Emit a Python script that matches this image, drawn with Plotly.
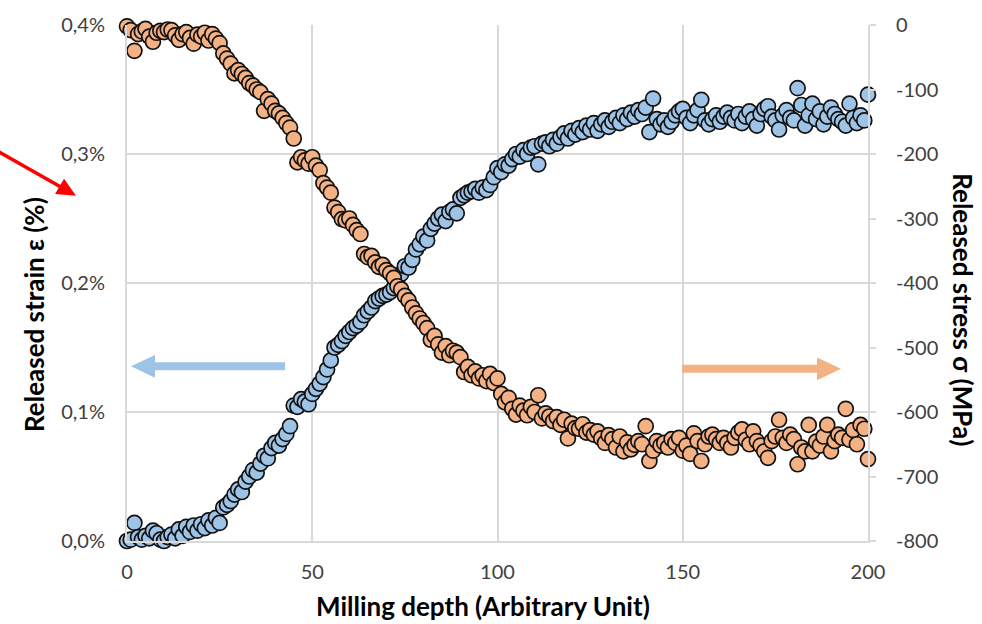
import math
import plotly.graph_objects as go

# Milling depth samples (arbitrary unit)
depth = list(range(0, 201))

# Released strain (%) - left axis
strain = [
    0.000, 0.001, 0.014, 0.003, 0.001, 0.004, 0.002, 0.008, 0.006, 0.001,
    0.000, 0.003, 0.005, 0.002, 0.009, 0.004, 0.011, 0.007, 0.012, 0.008,
    0.013, 0.010, 0.016, 0.012, 0.018, 0.014, 0.026, 0.028, 0.031, 0.036,
    0.040, 0.038, 0.046, 0.050, 0.055, 0.053, 0.060, 0.066, 0.064, 0.072,
    0.076, 0.074, 0.079, 0.083, 0.089, 0.105, 0.104, 0.110, 0.108, 0.106,
    0.114, 0.118, 0.122, 0.127, 0.133, 0.140, 0.150, 0.152, 0.155, 0.159,
    0.162, 0.165, 0.167, 0.170, 0.175, 0.178, 0.181, 0.186, 0.188, 0.190,
    0.191, 0.193, 0.196, 0.203, 0.207, 0.213, 0.212, 0.218, 0.226, 0.230,
    0.236, 0.233, 0.242, 0.246, 0.250, 0.253, 0.248, 0.255, 0.257, 0.254,
    0.266, 0.268, 0.270, 0.271, 0.273, 0.270, 0.274, 0.272, 0.276, 0.282,
    0.289, 0.286, 0.292, 0.291, 0.296, 0.300, 0.298, 0.303, 0.300, 0.305,
    0.306, 0.292, 0.308, 0.309, 0.306, 0.311, 0.308, 0.313, 0.316, 0.312,
    0.318, 0.315, 0.320, 0.317, 0.322, 0.319, 0.324, 0.318, 0.323, 0.326,
    0.321, 0.325, 0.328, 0.324, 0.330, 0.327, 0.332, 0.329, 0.334, 0.331,
    0.336, 0.317, 0.343, 0.327, 0.323, 0.326, 0.321, 0.325, 0.330, 0.333,
    0.335, 0.328, 0.324, 0.330, 0.334, 0.342, 0.326, 0.323, 0.327, 0.330,
    0.325, 0.329, 0.332, 0.328, 0.326, 0.331, 0.324, 0.329, 0.333, 0.327,
    0.322, 0.331, 0.335, 0.337, 0.329, 0.326, 0.319, 0.330, 0.334, 0.328,
    0.326, 0.351, 0.338, 0.322, 0.330, 0.339, 0.327, 0.333, 0.323, 0.329,
    0.336, 0.331, 0.327, 0.325, 0.322, 0.339, 0.328, 0.324, 0.330, 0.326,
    0.346,
]

# Released stress (MPa) - right axis
stress = [
    -2, -8, -40, -14, -10, -6, -18, -26, -12, -9,
    -11, -7, -8, -16, -23, -14, -11, -20, -29, -15,
    -18, -12, -24, -14, -21, -28, -44, -52, -60, -75,
    -70, -76, -82, -90, -94, -100, -104, -133, -115, -122,
    -133, -137, -144, -152, -159, -176, -213, -205, -210, -215,
    -205, -218, -225, -245, -252, -260, -283, -290, -301, -303,
    -300, -310, -318, -324, -355, -360, -358, -368, -375, -372,
    -380, -385, -392, -405, -410, -420, -427, -438, -447, -455,
    -462, -470, -488, -482, -495, -508, -498, -512, -505, -508,
    -515, -538, -530, -543, -537, -548, -543, -552, -541, -555,
    -548, -572, -585, -578, -595, -604, -590, -598, -605, -592,
    -600, -574, -610, -602, -607, -614, -608, -620, -612, -641,
    -618, -625, -626, -619, -632, -628, -635, -630, -641, -648,
    -636, -642, -655, -638, -661, -647, -658, -651, -645, -650,
    -622, -676, -660, -645, -652, -648, -655, -642, -648, -640,
    -660, -652, -665, -633, -645, -676, -650, -638, -635, -642,
    -648, -640, -648, -655, -640, -632, -627, -643, -650, -630,
    -645, -652, -661, -671, -645, -638, -612, -640, -648, -635,
    -642, -681, -655, -661, -620, -661, -646, -652, -638, -620,
    -661, -645, -635, -640, -595, -643, -628, -650, -620, -626,
    -673,
]

strain_ticks = [0.0, 0.1, 0.2, 0.3, 0.4]
stress_ticks = [0, -100, -200, -300, -400, -500, -600, -700, -800]
depth_ticks = [0, 50, 100, 150, 200]

strain_labels = [("%.1f%%" % v).replace(".", ",") for v in strain_ticks]
stress_labels = [str(v) for v in stress_ticks]

BLUE = "#9DC3E6"
ORANGE = "#F4B183"
GRID = "#d9d9d9"
TICK_FONT = dict(family="Lato", size=20, color="#404040")
TITLE_FONT = dict(family="Lato", size=26, color="#000000")

W, H = 982, 624
L, R, T, B = 127, 114, 18, 83
PW, PH = W - L - R, H - T - B


def px(x, y):
    """Convert page pixel position to paper coordinates."""
    return (x - L) / PW, (H - B - y) / PH


fig = go.Figure()
fig.add_trace(go.Scatter(
    x=depth, y=strain, mode="markers", cliponaxis=False,
    marker=dict(size=15, color=BLUE, line=dict(color="#111111", width=1.7)),
    showlegend=False,
))
fig.add_trace(go.Scatter(
    x=depth, y=stress, mode="markers", yaxis="y2", cliponaxis=False,
    marker=dict(size=15, color=ORANGE, line=dict(color="#111111", width=1.7)),
    showlegend=False,
))

shapes = []


def arrow(x0, y0, x1, y1, width, head_len, head_half, color):
    dx, dy = x1 - x0, y1 - y0
    n = math.hypot(dx, dy)
    ux, uy = dx / n, dy / n
    bx, by = x1 - ux * head_len, y1 - uy * head_len
    a = px(x0, y0)
    b = px(bx + ux * 1, by + uy * 1)
    shapes.append(dict(type="line", xref="paper", yref="paper",
                       x0=a[0], y0=a[1], x1=b[0], y1=b[1],
                       line=dict(color=color, width=width)))
    nx, ny = -uy, ux
    p1 = px(x1, y1)
    p2 = px(bx + nx * head_half, by + ny * head_half)
    p3 = px(bx - nx * head_half, by - ny * head_half)
    path = "M {} {} L {} {} L {} {} Z".format(p1[0], p1[1], p2[0], p2[1], p3[0], p3[1])
    shapes.append(dict(type="path", xref="paper", yref="paper", path=path,
                       fillcolor=color, line=dict(color=color, width=0)))


arrow(-2, 146, 76, 191, 3.5, 19, 9, "#ff0000")
arrow(285, 364, 131, 364, 8, 24, 11.5, BLUE)
arrow(682, 366.5, 841, 366.5, 8, 24, 11.5, ORANGE)

annotations = []
lx, ly = px(34, 312)
annotations.append(dict(xref="paper", yref="paper", x=lx, y=ly, showarrow=False,
                        text="<b>Released strain ε (%)</b>", textangle=-90,
                        font=TITLE_FONT, xanchor="center", yanchor="middle"))
rx, ry = px(963, 306)
annotations.append(dict(xref="paper", yref="paper", x=rx, y=ry, showarrow=False,
                        text="<b>Released stress σ (MPa)</b>", textangle=90,
                        font=TITLE_FONT, xanchor="center", yanchor="middle"))
bx_, by_ = px(483, 607)
annotations.append(dict(xref="paper", yref="paper", x=bx_, y=by_, showarrow=False,
                        text="<b>Milling depth (Arbitrary Unit)</b>",
                        font=TITLE_FONT, xanchor="center", yanchor="middle"))

fig.update_layout(
    width=W, height=H,
    margin=dict(l=L, r=R, t=T, b=B, pad=0),
    paper_bgcolor="white", plot_bgcolor="white",
    shapes=shapes, annotations=annotations,
    xaxis=dict(range=[0, 200], tickvals=depth_ticks, showgrid=True,
               gridcolor=GRID, gridwidth=1.5, showline=True, linecolor=GRID,
               linewidth=2, zeroline=False, tickfont=TICK_FONT, ticks="",
               ticklabelstandoff=12),
    yaxis=dict(range=[0, 0.4], tickvals=strain_ticks, ticktext=strain_labels,
               showgrid=True, gridcolor=GRID, gridwidth=1.5,
               showline=True, linecolor=GRID, linewidth=2, zeroline=False,
               tickfont=TICK_FONT, ticks="", ticklabelstandoff=16),
    yaxis2=dict(range=[-800, 0], overlaying="y", side="right",
                tickvals=stress_ticks, ticktext=stress_labels,
                showgrid=False, showline=True, linecolor=GRID, linewidth=2,
                zeroline=False, ticks="outside", ticklen=6, tickcolor=GRID,
                tickwidth=1.5, tickfont=TICK_FONT, ticklabelstandoff=16),
)

fig.write_html("out.html")
